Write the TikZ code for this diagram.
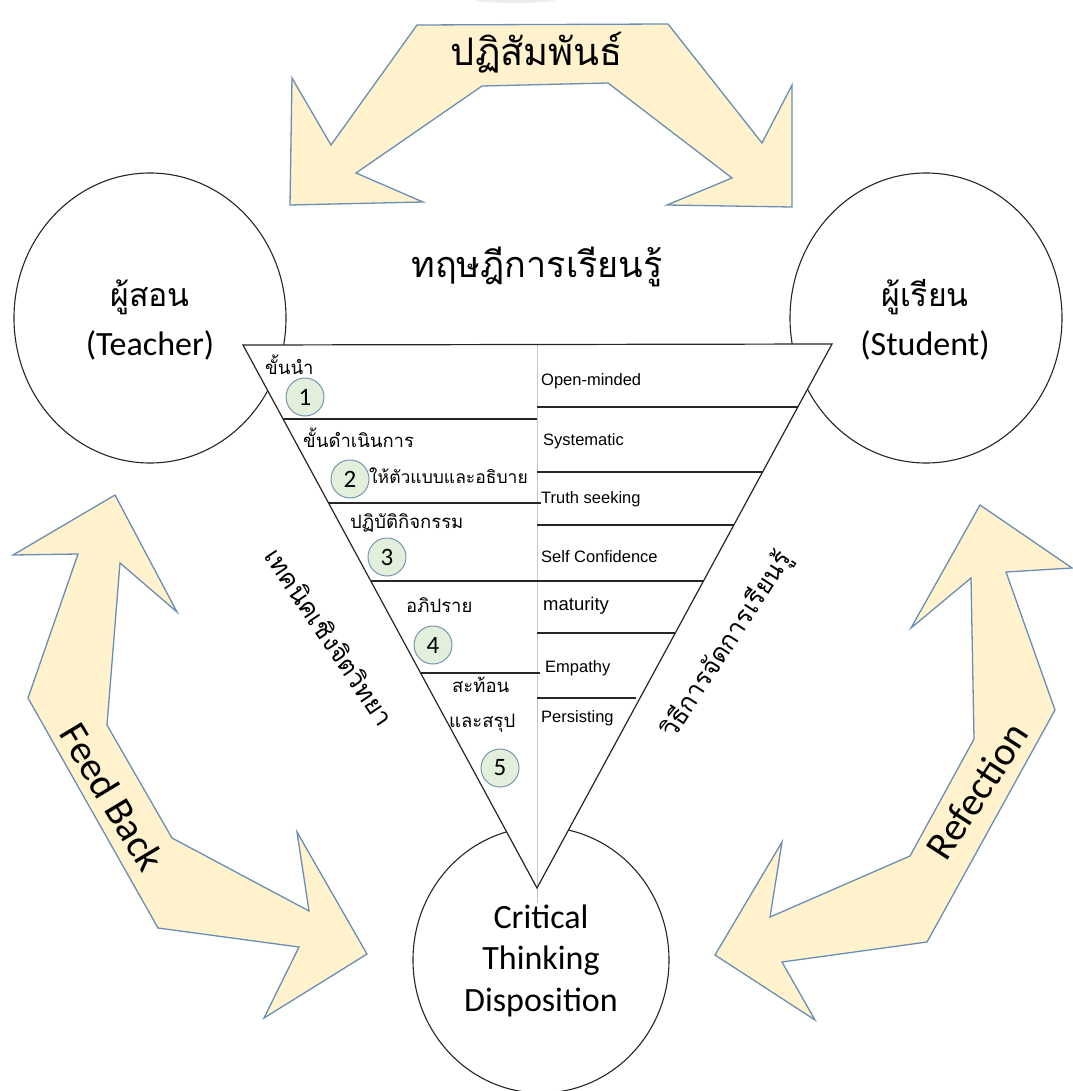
\documentclass[tikz,border=0pt]{standalone}
\usepackage{fontspec}
\setmainfont{Carlito}
\newfontfamily\thaifont[Script=Thai]{Loma}
\newfontfamily\arialfont{Liberation Sans}
\usetikzlibrary{shapes.geometric}
\definecolor{arrowfill}{HTML}{FFF2CC}
\definecolor{arrowline}{HTML}{6A8EB5}
\definecolor{numfill}{HTML}{E2EFDA}
\definecolor{numline}{HTML}{7896B4}
\begin{document}
\begin{tikzpicture}[x=1pt,y=-1pt,
  bigarrow/.style={fill=arrowfill, draw=arrowline, line width=1.3pt, line join=miter},
  actor/.style={ellipse, draw=black!85, line width=1.1pt, inner sep=0pt},
  rung/.style={draw=black!85, line width=1.3pt},
  numdot/.style={circle, draw=numline, fill=numfill, line width=1pt, minimum size=38pt, inner sep=0pt, font=\fontsize{25}{25}\selectfont},
  steplabel/.style={anchor=west, inner sep=0pt, font=\thaifont\fontsize{18.5}{18.5}\selectfont},
  trait/.style={anchor=west, inner sep=0pt, font=\arialfont\fontsize{16.5}{16.5}\selectfont},
  headline/.style={inner sep=0pt, font=\thaifont\fontsize{37}{37}\selectfont},
  actorthai/.style={inner sep=0pt, font=\thaifont\fontsize{32}{32}\selectfont},
  actoreng/.style={inner sep=0pt, font=\fontsize{34}{34}\selectfont},
  sidethai/.style={inner sep=0pt, font=\thaifont\fontsize{25.5}{25.5}\selectfont},
  arrowtext/.style={inner sep=0pt, font=\fontsize{40}{40}\selectfont}
]
\useasboundingbox (0,0) rectangle (1072,1091);
\fill[white] (0,0) rectangle (1072,1091);
\fill[gray!14] (515,0) ellipse [x radius=40, y radius=3];

% three double-headed block arrows
\draw[bigarrow] (290,205) -- (292,78) -- (331,145) -- (417,25) -- (668,24) -- (762,143)
  -- (792,85) -- (792,207) -- (667,205) -- (732,178) -- (608,83) -- (482,86)
  -- (356,173) -- (423,202) -- cycle;
\draw[bigarrow] (115,495) -- (177,612) -- (120,563) -- (107,725) -- (172,838)
  -- (309,911) -- (297,832) -- (367,954) -- (264,1018) -- (299,947) -- (158,928)
  -- (28,698) -- (78,554) -- (13,555) -- cycle;
\draw[bigarrow] (980,505) -- (1072,568) -- (1006,572) -- (1055,710) -- (927,942)
  -- (782,962) -- (815,1020) -- (715,955) -- (782,842) -- (770,917) -- (910,856)
  -- (974,739) -- (971,578) -- (911,628) -- cycle;

% the three actors
\node[actor, minimum width=272pt, minimum height=290pt] (teacher) at (150,318) {};
\node[actor, minimum width=272pt, minimum height=290pt] (student) at (926,318) {};
\node[actor, minimum width=256pt, minimum height=266pt] (ctd) at (541,960) {};

% inverted triangle of steps and dispositions
\coordinate (tl) at (243,345);
\coordinate (tr) at (832,344);
\coordinate (tb) at (537,888);
\fill[white] (tl) -- (tr) -- (tb) -- cycle;
\draw[gray!45, line width=1pt] (537,345) -- (537,903);
\draw[black!85, line width=1.2pt, line join=miter] (tl) -- (tr) -- (tb) -- cycle;

% step separators (left half)
\draw[rung] (283.1,419) -- (537,419);
\draw[rung] (328.5,503) -- (541,503);
\draw[rung] (370.8,581) -- (537,581);
\draw[rung] (420.6,673) -- (540,673);
% disposition separators (right half)
\draw[rung] (537,407) -- (797.8,407);
\draw[rung] (537,472) -- (762.6,472);
\draw[rung] (537,525) -- (733.8,525);
\draw[rung] (537,581) -- (703.5,581);
\draw[rung] (537,633) -- (675.3,633);
\draw[rung] (537,698) -- (636,698);

% headings
\node[headline, font=\thaifont\fontsize{38}{38}\selectfont] (rel) at (537,53) {ปฏิสัมพันธ์};
\node[headline, font=\thaifont\fontsize{36}{36}\selectfont] (theory) at (537,267) {ทฤษฎีการเรียนรู้};

\node[actorthai] (teacherth) at (150,297) {ผู้สอน};
\node[actoreng] (teacheren) at (150,345) {(Teacher)};
\node[actorthai] (studentth) at (925,297) {ผู้เรียน};
\node[actoreng] (studenten) at (925,345) {(Student)};
\node[actoreng] (ctd1) at (541,917) {Critical};
\node[actoreng] (ctd2) at (541,961) {Thinking};
\node[actoreng] (ctd3) at (541,1002) {Disposition};

% teaching steps
\node[steplabel] (s1) at (265,365) {ขั้นนำ};
\node[numdot] (n1) at (305,397) {1};
\node[steplabel] (s2) at (303,438) {ขั้นดำเนินการ};
\node[numdot] (n2) at (350,479) {2};
\node[steplabel, font=\thaifont\fontsize{17.5}{17.5}\selectfont] (s2b) at (369,476) {ให้ตัวแบบและอธิบาย};
\node[steplabel] (s3) at (350,523) {ปฏิบัติกิจกรรม};
\node[numdot] (n3) at (387,557) {3};
\node[steplabel] (s4) at (406,605) {อภิปราย};
\node[numdot] (n4) at (433,645) {4};
\node[steplabel] (s5a) at (452,685) {สะท้อน};
\node[steplabel] (s5b) at (449,723) {และสรุป};
\node[numdot] (n5) at (500,768) {5};

% dispositions
\node[trait] (d1) at (541,381) {Open-minded};
\node[trait] (d2) at (543,441) {Systematic};
\node[trait] (d3) at (541,499) {Truth seeking};
\node[trait] (d4) at (541,557) {Self Confidence};
\node[trait, font=\arialfont\fontsize{18.5}{18.5}\selectfont] (d5) at (543,606) {maturity};
\node[trait] (d6) at (545,668) {Empathy};
\node[trait] (d7) at (541,718) {Persisting};

% side captions
\node[sidethai, rotate=-56] (psy) at (330,637) {เทคนิคเชิงจิตวิทยา};
\node[sidethai, rotate=57] (method) at (727,645) {วิธีการจัดการเรียนรู้};
\node[arrowtext, rotate=-59] (fb) at (112,797) {Feed Back};
\node[arrowtext, rotate=57] (rf) at (977,791) {Refection};
\end{tikzpicture}
\end{document}
